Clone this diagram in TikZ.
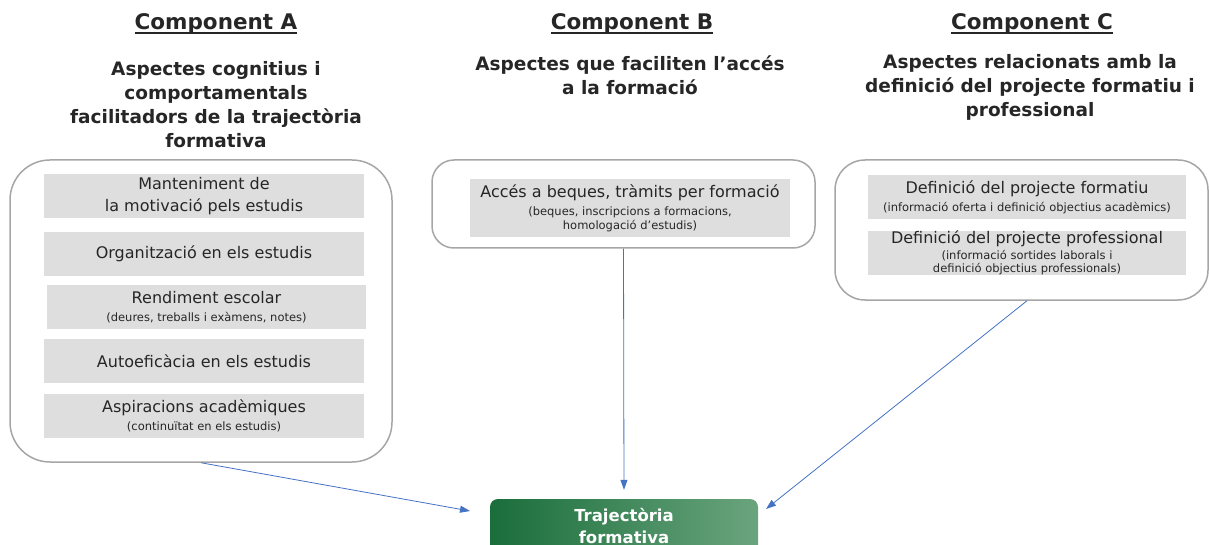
\documentclass[tikz,border=0pt]{standalone}
\usepackage{fontspec}
\setmainfont{DejaVu Sans}
\usetikzlibrary{arrows.meta}

\definecolor{txtdark}{HTML}{262626}
\definecolor{boxline}{HTML}{A6A6A6}
\definecolor{boxgray}{HTML}{DEDEDE}
\definecolor{arrblue}{HTML}{4472C4}
\definecolor{greendark}{HTML}{1A6E3A}
\definecolor{greenlight}{HTML}{6AA47E}

\newcommand{\mainfs}{\fontsize{16}{14}\selectfont}
\newcommand{\subfs}{\fontsize{11.5}{14}\selectfont}
\newcommand{\thickul}[1]{\setbox0=\hbox{#1}\rlap{\vrule width\wd0 height -2.4pt depth 4.2pt}\box0}

\tikzset{title/.style={font=\bfseries\fontsize{21.5}{24}\selectfont,text=txtdark}}
\tikzset{heading/.style={font=\bfseries\fontsize{18.5}{24}\selectfont,text=txtdark,align=center}}
\tikzset{outerbox/.style={draw=boxline,line width=1.5pt,rounded corners=#1,inner sep=0pt}}
\tikzset{graybox/.style={fill=boxgray,text=txtdark,font=\mainfs,align=center,inner sep=0pt,minimum height=44pt,minimum width=320pt}}
\tikzset{arr/.style={->,draw=arrblue,line width=0.8pt}}

\begin{document}
\begin{tikzpicture}[x=1pt, y=-1pt, >={Triangle[length=10pt,width=7pt]}]
	\useasboundingbox (0,0) rectangle (1209,545);
	
	% titles
	\foreach \l/\x in {A/216, B/632, C/1032}
	  \node [title] (title-\l) at (\x,24) {\thickul{Component \l}};
	
	% headings below titles
	\node [heading] (head-A) at (216,104.5) {Aspectes cognitius i\\comportamentals\\facilitadors de la trajectòria\\formativa};
	\node [heading] (head-B) at (630,75) {Aspectes que faciliten l’accés\\a la formació};
	\node [heading] (head-C) at (1030,87.5) {Aspectes relacionats amb la\\definició del projecte formatiu i\\professional};
	
	% component A
	\node [outerbox=40pt, minimum width=382pt, minimum height=302pt] (box-A) at (201,311) {};
	\node [graybox] (a-1) at (204,196) {Manteniment de\\[8pt]la motivació pels estudis};
	\node [graybox] (a-2) at (204,254) {Organització en els estudis};
	\node [graybox, minimum width=319pt] (a-3) at (206.5,307) {Rendiment escolar\\[4pt]\subfs (deures, treballs i exàmens, notes)};
	\node [graybox] (a-4) at (204,361) {Autoeficàcia en els estudis};
	\node [graybox] (a-5) at (204,416) {Aspiracions acadèmiques\\[4pt]\subfs (continuïtat en els estudis)};
	
	% component B
	\node [outerbox=22pt, minimum width=383pt, minimum height=88pt] (box-B) at (623.5,204) {};
	\node [graybox, minimum height=58pt] (b-1) at (630,208) {Accés a beques, tràmits per formació\\[4pt]\subfs (beques, inscripcions a formacions,\\\subfs homologació d’estudis)};
	
	% component C
	\node [outerbox=30pt, minimum width=373pt, minimum height=140pt] (box-C) at (1021.5,230) {};
	\node [graybox, minimum width=318pt] (c-1) at (1027,197) {Definició del projecte formatiu\\[4pt]\subfs (informació oferta i definició objectius acadèmics)};
	\node [graybox, minimum width=318pt] (c-2) at (1027,253) {Definició del projecte professional\\[2pt]\subfs (informació sortides laborals i\\[-1pt]\subfs definició objectius professionals)};
	
	% result
	\node [rounded corners=8pt, left color=greendark, right color=greenlight,
	       minimum width=268pt, minimum height=54pt, inner sep=0pt, align=center, text=white,
	       font=\bfseries\fontsize{16.5}{22}\selectfont] (traj) at (624,526) {Trajectòria\\formativa};
	
	% arrows to result
	\coordinate (end-A) at (470,511);
	\coordinate (end-C) at (766,509);
	\draw [arr] (box-A.south) -- (end-A);
	\draw [arr, shorten >=9pt] (box-B.south) -- (traj.north);
	\draw [arr] ([xshift=5.5pt]box-C.south) -- (end-C);
	
\end{tikzpicture}
\end{document}
